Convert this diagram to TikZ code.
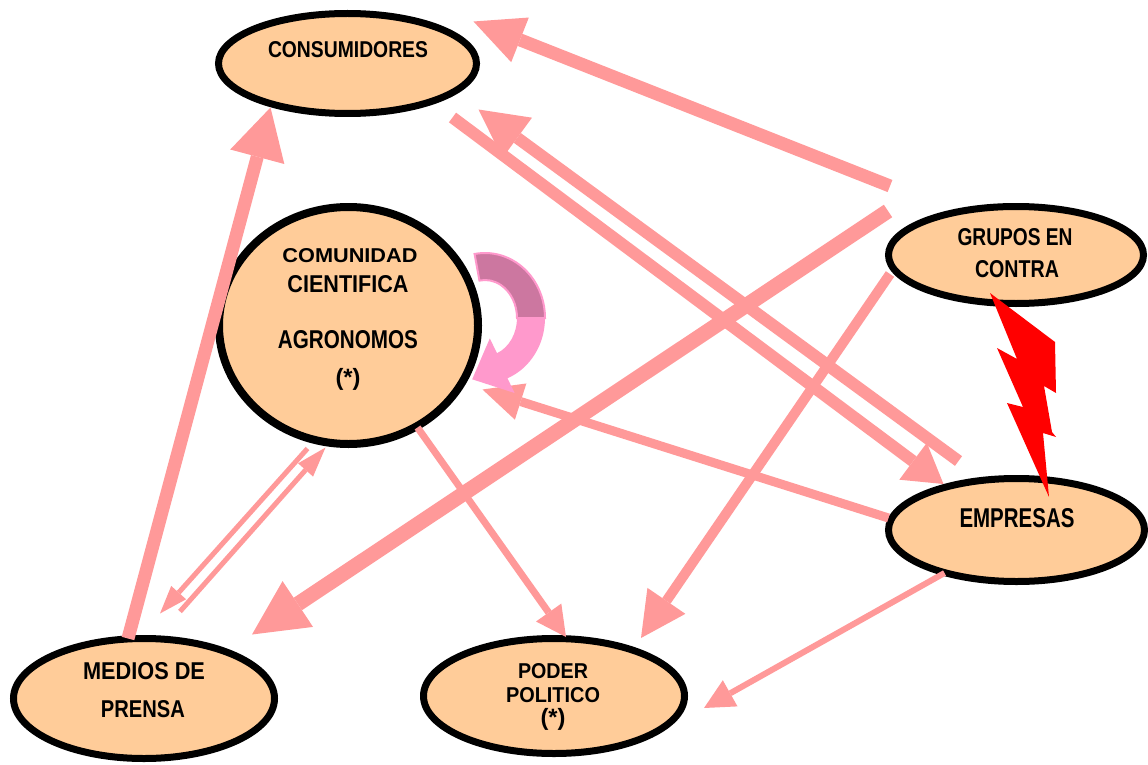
\documentclass[tikz,border=0pt]{standalone}
\usepackage{fontspec}
\usepackage{graphicx}
\usetikzlibrary{arrows.meta,shapes.geometric}
\newfontfamily\lbl{Liberation Sans}
\definecolor{peach}{RGB}{255,204,153}
\definecolor{salmon}{RGB}{255,153,153}
\definecolor{mauve}{RGB}{204,119,160}
\definecolor{pinkk}{RGB}{255,153,204}
\newcommand{\txt}[3]{\resizebox{#1pt}{#2pt}{\lbl\bfseries #3}}
\newcommand{\stxt}[3]{\resizebox*{#1pt}{#2pt}{\lbl\bfseries #3}}
\tikzset{
  ent/.style={ellipse, draw=black, fill=peach, line width=7pt, inner sep=0pt},
  lab/.style={anchor=base, inner sep=0pt, text=black},
  arr/.style n args={3}{draw=salmon, line width=#1pt,
     -{Triangle[length=#2pt,width=#3pt,line width=0pt]}}
}
\begin{document}
\begin{tikzpicture}[x=1pt,y=-1pt]
\useasboundingbox[fill=white] (0,0) rectangle (1148,765);

% entities
\node[ent, minimum width=258pt, minimum height=100pt] (cons) at (347.5,63.5) {};
\node[ent, line width=8pt, minimum width=259pt, minimum height=237pt] (com) at (348.5,325.5) {};
\node[ent, minimum width=255pt, minimum height=97pt] (grupos) at (1016,255) {};
\node[ent, minimum width=256pt, minimum height=103pt] (emp) at (1016.5,530) {};
\node[ent, minimum width=261pt, minimum height=120pt] (medios) at (144,698.5) {};
\node[ent, minimum width=261pt, minimum height=115pt] (poder) at (554,696) {};

% connectors
\draw[arr={13}{50}{48}] ([shift={(-126,-69)}]grupos.center) -- ([shift={(126,-42)}]cons.center);
\draw[arr={15}{55}{55}] ([shift={(-128,-44)}]grupos.center) -- ([shift={(108,-64)}]medios.center);
\draw[arr={12}{38}{46}] ([shift={(105,54)}]cons.center) -- ([shift={(-73,-46)}]emp.center);
\draw[arr={12}{48}{50}] ([shift={(-58,-69)}]emp.center) -- ([shift={(131,46)}]cons.center);
\draw[arr={13}{51}{56}] ([shift={(-16,-60)}]medios.center) -- ([shift={(-77,44)}]cons.center);
\draw[arr={5}{30}{20}] ([shift={(36,-87)}]medios.center) -- ([shift={(-23,122)}]com.center);
\draw[arr={5}{28}{20}] ([shift={(-41,123)}]com.center) -- ([shift={(16,-85)}]medios.center);
\draw[arr={7}{30}{31}] ([shift={(69,102)}]com.center) -- ([shift={(12,-59)}]poder.center);
\draw[arr={10}{45}{46}] ([shift={(-126,19)}]grupos.center) -- ([shift={(87,-58)}]poder.center);
\draw[arr={9}{40}{38}] ([shift={(-128,-12)}]emp.center) -- ([shift={(134,64)}]com.center);
\draw[arr={6}{30}{30}] ([shift={(-72,43)}]emp.center) -- ([shift={(150,12)}]poder.center);

% self loop of the comunidad
\begin{scope}[shift={(485,318)}]
  \fill[pinkk] (0:60 and 65) arc[start angle=0,end angle=68,x radius=60,y radius=65]
     -- (29.6,75) -- (-12.8,61.3) -- (4.8,20.4)
     -- (68:32 and 38) arc[start angle=68,end angle=0,x radius=32,y radius=38] -- cycle;
  \filldraw[fill=mauve, draw=pinkk, line width=2pt] (-100:60 and 65)
     arc[start angle=-100,end angle=0,x radius=60,y radius=65]
     -- (0:32 and 38) arc[start angle=0,end angle=-100,x radius=32,y radius=38] -- cycle;
\end{scope}

% conflict bolt
\fill[red] (990,293) -- (1055,342) -- (1056,393) -- (1044,386) -- (1052,432)
  -- (1056,437) -- (1043,433) -- (1049,497) -- (1007,403) -- (1023,407)
  -- (997,348) -- (1017,359) -- cycle;

% labels
\node[lab] at (348,58) {\txt{160}{16}{CONSUMIDORES}};
\node[lab] at (350,262) {\txt{135}{14}{COMUNIDAD}};
\node[lab] at (348,292) {\txt{121}{17}{CIENTIFICA}};
\node[lab] at (348,348) {\txt{140}{18}{AGRONOMOS}};
\node[inner sep=0pt] at (348,379) {\stxt{25}{22}{(*)}};
\node[lab] at (1015,245) {\txt{115}{17}{GRUPOS EN}};
\node[lab] at (1017,277) {\txt{84}{17}{CONTRA}};
\node[lab] at (1017,527) {\txt{115}{19}{EMPRESAS}};
\node[lab] at (144,679) {\txt{122}{17}{MEDIOS DE}};
\node[lab] at (143,717) {\txt{84}{17}{PRENSA}};
\node[lab] at (553,678) {\txt{70}{15}{PODER}};
\node[lab] at (553,702) {\txt{94}{15}{POLITICO}};
\node[inner sep=0pt] at (553,719) {\stxt{25}{22}{(*)}};
\end{tikzpicture}
\end{document}
